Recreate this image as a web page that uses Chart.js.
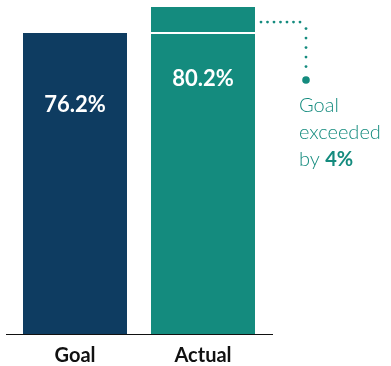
<!DOCTYPE html>
<html>
<head>
<meta charset="utf-8">
<script src="https://cdn.jsdelivr.net/npm/chart.js@4/dist/chart.umd.min.js"></script>
<style>
  html, body { margin: 0; padding: 0; background: #fff; }
  #wrap { width: 391px; height: 366px; }
</style>
</head>
<body>
<div id="wrap"><canvas id="chart"></canvas></div>
<script>
const categories = ['Goal', 'Actual'];
const values = [76.2, 80.2];
const valueLabels = ['76.2%', '80.2%'];
const noteLines = ['Goal', 'exceeded', 'by '];
const noteBold = '4%';

const goalColor = '#0e3c61';
const actualColor = '#148b7e';
const fontFamily = 'Lato, "Noto Sans", sans-serif';

// white goal line, dotted callout and text labels
const overlay = {
    id: 'overlay',
    afterDatasetsDraw(chart) {
        const ctx = chart.ctx;
        const meta = chart.getDatasetMeta(0);
        const y = chart.scales.y;
        const area = chart.chartArea;

        // baseline
        ctx.save();
        ctx.strokeStyle = '#111';
        ctx.lineWidth = 1.2;
        ctx.beginPath();
        ctx.moveTo(area.left - 5, area.bottom + 0.5);
        ctx.lineTo(area.right + 6, area.bottom + 0.5);
        ctx.stroke();

        // value labels
        ctx.fillStyle = '#fff';
        ctx.font = 'bold 22px ' + fontFamily;
        ctx.textAlign = 'center';
        ctx.textBaseline = 'middle';
        meta.data.forEach((bar, i) => {
            ctx.fillText(valueLabels[i], bar.x, bar.y + 72);
        });

        // goal line on actual bar
        const actual = meta.data[1];
        const gy = y.getPixelForValue(values[0]);
        ctx.strokeStyle = '#fff';
        ctx.lineWidth = 2;
        ctx.beginPath();
        ctx.moveTo(actual.x - actual.width / 2, gy);
        ctx.lineTo(actual.x + actual.width / 2, gy);
        ctx.stroke();

        // dotted callout
        const my = y.getPixelForValue((values[0] + values[1]) / 2) + 2;
        const x0 = actual.x + actual.width / 2 + 6;
        const x1 = x0 + 45;
        ctx.fillStyle = actualColor;
        for (let x = x0; x <= x1; x += 6.5) {
            ctx.beginPath();
            ctx.arc(x, my, 1.4, 0, Math.PI * 2);
            ctx.fill();
        }
        for (let yy = my + 6.5; yy <= my + 50; yy += 9.5) {
            ctx.beginPath();
            ctx.arc(x1, yy, 1.4, 0, Math.PI * 2);
            ctx.fill();
        }
        ctx.beginPath();
        ctx.arc(x1, my + 58, 3.8, 0, Math.PI * 2);
        ctx.fill();

        // note text
        const tx = x1 - 7;
        ctx.textAlign = 'left';
        ctx.textBaseline = 'alphabetic';
        ctx.font = '300 20px ' + fontFamily;
        ctx.fillText(noteLines[0], tx, 112);
        ctx.fillText(noteLines[1], tx, 139);
        ctx.fillText(noteLines[2], tx, 166);
        const w = ctx.measureText(noteLines[2]).width;
        ctx.font = 'bold 20px ' + fontFamily;
        ctx.fillText(noteBold, tx + w, 166);
        ctx.restore();
    }
};

new Chart(document.getElementById('chart').getContext('2d'), {
    type: 'bar',
    data: {
        labels: categories,
        datasets: [{
            data: values,
            backgroundColor: [goalColor, actualColor],
            borderWidth: 0,
            barPercentage: 0.8125,
            categoryPercentage: 1
        }]
    },
    options: {
        responsive: true,
        maintainAspectRatio: false,
        animation: false,
        layout: { padding: { left: 11, right: 124, top: 7, bottom: 0 } },
        plugins: { legend: { display: false }, tooltip: { enabled: false } },
        scales: {
            x: {
                grid: { display: false },
                border: { display: false },
                afterFit(scale) { scale.height = 32; },
                ticks: {
                    color: '#111',
                    font: { family: fontFamily, size: 20, weight: 'bold' },
                    padding: 2
                }
            },
            y: {
                display: false,
                min: 30,
                max: 80.2
            }
        }
    },
    plugins: [overlay]
});
</script>
</body>
</html>
